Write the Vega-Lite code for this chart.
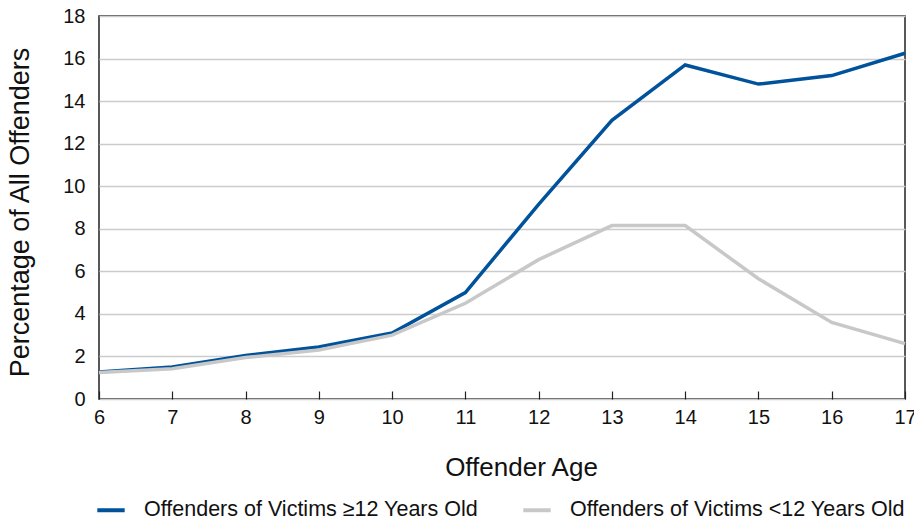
{
  "$schema": "https://vega.github.io/schema/vega-lite/v6.json",
  "autosize": "none",
  "width": 806,
  "height": 383,
  "padding": {"left": 99, "top": 16, "right": 9, "bottom": 122},
  "background": "white",
  "config": {
    "font": "Liberation Sans",
    "view": {"stroke": "#222", "strokeWidth": 1.5}
  },
  "data": {
    "values": [
      {"age": 6, "pct": 1.27, "series": "Offenders of Victims ≥12 Years Old"},
      {"age": 7, "pct": 1.5, "series": "Offenders of Victims ≥12 Years Old"},
      {"age": 8, "pct": 2.05, "series": "Offenders of Victims ≥12 Years Old"},
      {"age": 9, "pct": 2.45, "series": "Offenders of Victims ≥12 Years Old"},
      {"age": 10, "pct": 3.1, "series": "Offenders of Victims ≥12 Years Old"},
      {"age": 11, "pct": 5.0, "series": "Offenders of Victims ≥12 Years Old"},
      {"age": 12, "pct": 9.15, "series": "Offenders of Victims ≥12 Years Old"},
      {"age": 13, "pct": 13.1, "series": "Offenders of Victims ≥12 Years Old"},
      {"age": 14, "pct": 15.7, "series": "Offenders of Victims ≥12 Years Old"},
      {"age": 15, "pct": 14.8, "series": "Offenders of Victims ≥12 Years Old"},
      {"age": 16, "pct": 15.2, "series": "Offenders of Victims ≥12 Years Old"},
      {"age": 17, "pct": 16.25, "series": "Offenders of Victims ≥12 Years Old"},
      {"age": 6, "pct": 1.25, "series": "Offenders of Victims <12 Years Old"},
      {"age": 7, "pct": 1.42, "series": "Offenders of Victims <12 Years Old"},
      {"age": 8, "pct": 1.95, "series": "Offenders of Victims <12 Years Old"},
      {"age": 9, "pct": 2.3, "series": "Offenders of Victims <12 Years Old"},
      {"age": 10, "pct": 3.0, "series": "Offenders of Victims <12 Years Old"},
      {"age": 11, "pct": 4.5, "series": "Offenders of Victims <12 Years Old"},
      {"age": 12, "pct": 6.55, "series": "Offenders of Victims <12 Years Old"},
      {"age": 13, "pct": 8.15, "series": "Offenders of Victims <12 Years Old"},
      {"age": 14, "pct": 8.15, "series": "Offenders of Victims <12 Years Old"},
      {"age": 15, "pct": 5.65, "series": "Offenders of Victims <12 Years Old"},
      {"age": 16, "pct": 3.6, "series": "Offenders of Victims <12 Years Old"},
      {"age": 17, "pct": 2.6, "series": "Offenders of Victims <12 Years Old"}
    ]
  },
  "mark": {"type": "line", "strokeWidth": 3.5, "strokeJoin": "miter"},
  "encoding": {
    "x": {
      "field": "age", "type": "quantitative",
      "scale": {"domain": [6, 17], "nice": false, "zero": false},
      "axis": {
        "title": "Offender Age",
        "values": [6,7,8,9,10,11,12,13,14,15,16,17],
        "grid": false,
        "domain": false,
        "tickSize": -8, "tickColor": "#222", "tickWidth": 1.2,
        "labelFontSize": 20, "labelColor": "#111", "labelPadding": 16,
        "labelFlush": false,
        "titleFontSize": 26, "titleFontWeight": "normal", "titleColor": "#111",
        "titlePadding": 27,
        "titleX": 422
      }
    },
    "y": {
      "field": "pct", "type": "quantitative",
      "scale": {"domain": [0, 18], "nice": false},
      "axis": {
        "title": "Percentage of  All Offenders",
        "values": [0,2,4,6,8,10,12,14,16,18],
        "grid": true, "gridColor": "#cccccc", "gridWidth": 1.5,
        "domain": false, "ticks": false,
        "labelFontSize": 20, "labelColor": "#111", "labelPadding": 14,
        "titleFontSize": 27, "titleFontWeight": "normal", "titleColor": "#111",
        "titleX": -79,
        "titleY": 196,
        "titleBaseline": "middle",
        "titleAlign": "center"
      }
    },
    "color": {
      "field": "series", "type": "nominal",
      "scale": {
        "domain": ["Offenders of Victims ≥12 Years Old", "Offenders of Victims <12 Years Old"],
        "range": ["#00529b", "#c8c8c8"]
      },
      "legend": {
        "title": null,
        "orient": "none",
        "legendX": -4,
        "legendY": 478,
        "direction": "horizontal",
        "columns": 2,
        "columnPadding": 36,
        "symbolType": "stroke",
        "symbolStrokeWidth": 4,
        "symbolSize": 750,
        "labelFontSize": 21.5,
        "labelColor": "#111",
        "labelOffset": 17,
        "labelLimit": 500
      }
    }
  }
}
